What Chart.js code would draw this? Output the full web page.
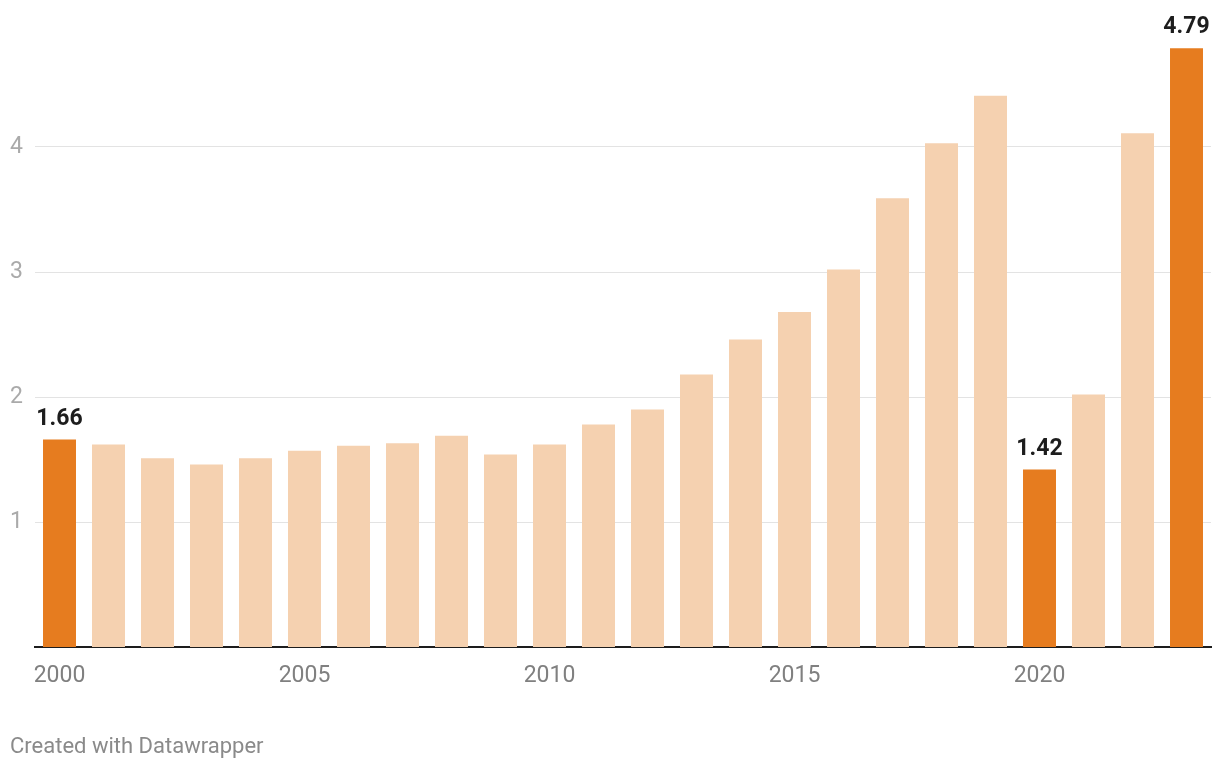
<!DOCTYPE html>
<html>
<head>
<meta charset="utf-8">
<script src="https://cdn.jsdelivr.net/npm/chart.js@4/dist/chart.umd.min.js"></script>
<style>
  html, body { margin: 0; padding: 0; background: #fff; }
  #wrap { position: relative; width: 1220px; height: 770px; }
  #footer { position: absolute; left: 10px; top: 733px; font: 22px Roboto, sans-serif; color: #8a8a8a; line-height: 26px; }
</style>
</head>
<body>
<div id="wrap">
  <canvas id="c"></canvas>
  <div id="footer">Created with Datawrapper</div>
</div>
<script>
const years = ['2000','2001','2002','2003','2004','2005','2006','2007','2008','2009','2010','2011',
               '2012','2013','2014','2015','2016','2017','2018','2019','2020','2021','2022','2023'];
const values = [1.66, 1.62, 1.51, 1.46, 1.51, 1.57, 1.61, 1.63, 1.69, 1.54, 1.62, 1.78,
                1.90, 2.18, 2.46, 2.68, 3.02, 3.59, 4.03, 4.41, 1.42, 2.02, 4.11, 4.79];
const highlighted = ['2000', '2020', '2023'];
const xTickLabels = ['2000', '2005', '2010', '2015', '2020'];
const yTickValues = [1, 2, 3, 4];

const HIGH = '#e67c1f';
const LIGHT = '#f5d1b0';

const labelPlugin = {
  id: 'valueLabels',
  afterDatasetsDraw(chart) {
    const ctx = chart.ctx;
    const meta = chart.getDatasetMeta(0);
    ctx.save();
    ctx.font = 'bold 23px Roboto, sans-serif';
    ctx.fillStyle = '#1d1d1d';
    ctx.textBaseline = 'alphabetic';
    ctx.textAlign = 'center';
    meta.data.forEach((bar, i) => {
      if (!highlighted.includes(years[i])) return;
      const txt = values[i].toFixed(2);
      const w = ctx.measureText(txt).width;
      let x = bar.x;
      if (x + w / 2 > chart.width - 10) x = chart.width - 10 - w / 2;
      ctx.fillText(txt, x, bar.y - 15);
    });
    ctx.restore();
  }
};

new Chart(document.getElementById('c'), {
  type: 'bar',
  data: {
    labels: years,
    datasets: [{
      data: values,
      backgroundColor: years.map(y => highlighted.includes(y) ? HIGH : LIGHT),
      barPercentage: 0.673,
      categoryPercentage: 1.0,
      borderWidth: 0
    }]
  },
  options: {
    responsive: true,
    maintainAspectRatio: false,
    animation: false,
    layout: { padding: { left: 10, right: 9, top: 22, bottom: 73 } },
    plugins: { legend: { display: false }, tooltip: { enabled: false } },
    scales: {
      x: {
        grid: { display: false, drawTicks: false },
        border: { display: true, color: '#1d1d1d', width: 2 },
        ticks: {
          autoSkip: false,
          maxRotation: 0,
          padding: 15,
          color: '#808080',
          font: { family: 'Roboto, sans-serif', size: 23 },
          callback: function(v, i) { const l = years[i]; return xTickLabels.includes(l) ? l : ''; }
        },
        afterFit: s => { s.height = 50; }
      },
      y: {
        min: 0,
        max: 5,
        afterBuildTicks: s => { s.ticks = yTickValues.map(v => ({ value: v })); },
        grid: { color: '#e3e3e3', lineWidth: 1, drawTicks: false },
        border: { display: false },
        ticks: {
          crossAlign: 'far',
          padding: 0,
          color: '#aaaaaa',
          font: { family: 'Roboto, sans-serif', size: 23 },
          callback: v => String(v)
        },
        afterFit: s => { s.width = 25; }
      }
    }
  },
  plugins: [labelPlugin]
});
</script>
</body>
</html>
